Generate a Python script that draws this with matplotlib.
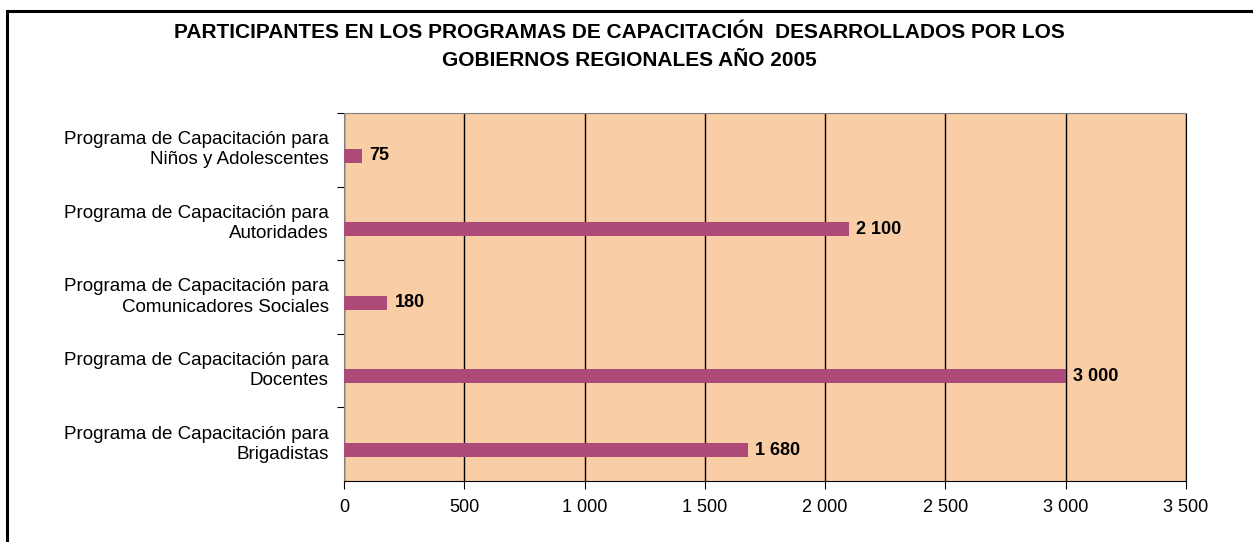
import matplotlib.pyplot as plt
from matplotlib.patches import Rectangle

plt.rcParams['font.family'] = ['Liberation Sans', 'DejaVu Sans']

# Data
programas = [
    "Programa de Capacitación para\nBrigadistas",
    "Programa de Capacitación para\nDocentes",
    "Programa de Capacitación para\nComunicadores Sociales",
    "Programa de Capacitación para\nAutoridades",
    "Programa de Capacitación para\nNiños y Adolescentes",
]
participantes = [1680, 3000, 180, 2100, 75]
xticks = [0, 500, 1000, 1500, 2000, 2500, 3000, 3500]


def miles(v):
    return f"{v:,}".replace(",", " ")


fig = plt.figure(figsize=(12.53, 5.42), dpi=100)

# outer frame (right and bottom edges fall outside the picture)
fig.patches.append(Rectangle((7 / 1253, -0.1), 1.2, 1 - 11 / 542 + 0.1,
                             transform=fig.transFigure, fill=False,
                             edgecolor='black', linewidth=2.2))

ax = fig.add_axes([344 / 1253, 1 - 481 / 542, 842 / 1253, 368 / 542])
ax.set_facecolor('#F9CDA5')

ypos = list(range(len(programas)))
# bars sit slightly below the category centre, as in the original
bar_y = [y - 0.08 for y in ypos]
ax.barh(bar_y, participantes, height=0.19, color='#AE4A78', zorder=3)

for y, v in zip(bar_y, participantes):
    ax.text(v + 30, y, miles(v), va='center', ha='left',
            fontsize=13, fontweight='bold', zorder=4)

ax.set_xlim(0, 3500)
ax.set_ylim(-0.5, len(programas) - 0.5)
ax.set_xticks(xticks)
ax.set_xticklabels([miles(t) for t in xticks], fontsize=13)
ax.set_yticks([y + 0.5 for y in ypos])
ax.set_yticklabels([])
ax.set_yticks([y + 0.05 for y in ypos], minor=True)
ax.set_yticklabels(programas, minor=True, fontsize=13.5, ha='right',
                   multialignment='right', linespacing=1.25)
ax.tick_params(axis='y', which='minor', length=0, pad=11)
ax.tick_params(axis='y', which='major', length=5, direction='out')
ax.tick_params(axis='x', length=6, direction='out', pad=7)

ax.grid(axis='x', color='black', linewidth=1, zorder=1)
ax.set_axisbelow(True)

for s in ['left', 'top']:
    ax.spines[s].set_color('#808080')
for s in ['right', 'bottom']:
    ax.spines[s].set_color('black')

fig.text(0.494, 1 - 32 / 542,
         "PARTICIPANTES EN LOS PROGRAMAS DE CAPACITACIÓN  DESARROLLADOS POR LOS",
         ha='center', va='center', fontsize=15, fontweight='bold')
fig.text(0.502, 1 - 60 / 542, "GOBIERNOS REGIONALES AÑO 2005",
         ha='center', va='center', fontsize=15, fontweight='bold')

fig.savefig('out.png', dpi=100)
